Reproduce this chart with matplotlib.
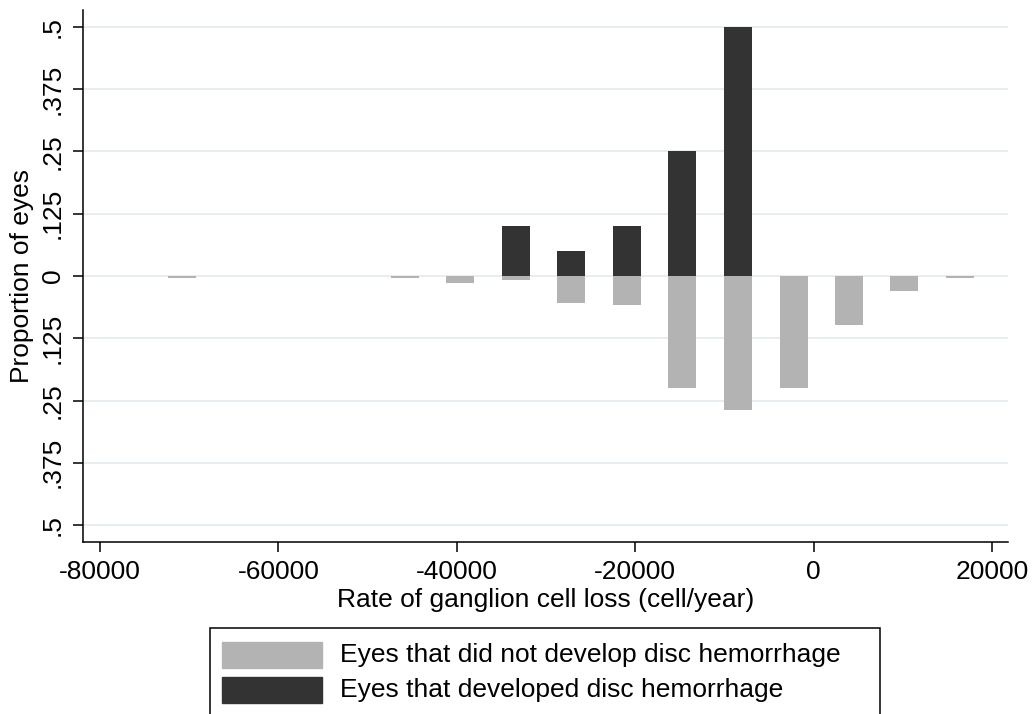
import matplotlib
matplotlib.use("Agg")
import matplotlib.pyplot as plt
from matplotlib.patches import Rectangle

plt.rcParams['font.family'] = ['Liberation Sans', 'DejaVu Sans']

# bin centres (cell/year) and proportions
no_dh_x = [-70800, -45800, -39600, -33400, -27200, -20900, -14700, -8500, -2240, 3970, 10170, 16400]
no_dh_prop = [0.005, 0.005, 0.014, 0.009, 0.054, 0.058, 0.225, 0.269, 0.225, 0.098, 0.030, 0.005]
dh_x = [-33400, -27200, -20900, -14700, -8500]
dh_prop = [0.1, 0.05, 0.1, 0.25, 0.5]

x_ticks = [-80000, -60000, -40000, -20000, 0, 20000]
y_ticks = [-0.5, -0.375, -0.25, -0.125, 0, 0.125, 0.25, 0.375, 0.5]
y_ticklabels = ['.5', '.375', '.25', '.125', '0', '.125', '.25', '.375', '.5']

labels = ['Eyes that did not develop disc hemorrhage', 'Eyes that developed disc hemorrhage']
light = '#b3b3b3'
dark = '#333333'

W, H = 1032, 714
fig = plt.figure(figsize=(W / 100, H / 100), dpi=100)
ax = fig.add_axes([83 / W, 172 / H, (1008 - 83) / W, (542 - 10) / H])

bw = 3150
ax.bar(dh_x, dh_prop, width=bw, color=dark, zorder=3)
ax.bar(no_dh_x, [-v for v in no_dh_prop], width=bw, color=light, zorder=3)

ax.set_xlim(-81900, 21800)
ax.set_ylim(-0.534, 0.534)
ax.set_xticks(x_ticks)
ax.set_xticklabels([str(t) for t in x_ticks])
ax.set_yticks(y_ticks)
ax.set_yticklabels(y_ticklabels, rotation=90, va='center')
ax.tick_params(axis='both', labelsize=19, length=7, width=1.1, direction='out', pad=6)
ax.yaxis.grid(True, color='#e4edf0', linewidth=1.3, zorder=0)
ax.set_axisbelow(True)

for s in ['top', 'right']:
    ax.spines[s].set_visible(False)
for s in ['left', 'bottom']:
    ax.spines[s].set_linewidth(1.1)

ax.set_xlabel('Rate of ganglion cell loss (cell/year)', fontsize=19, labelpad=3)
ax.set_ylabel('Proportion of eyes', fontsize=19, labelpad=5)

# legend box, drawn in figure pixels
def fx(px):
    return px / W

def fy(py):
    return 1 - py / H

fig.patches.append(Rectangle((fx(210), fy(716)), fx(880) - fx(210), fy(628) - fy(716),
                             transform=fig.transFigure, fill=False, edgecolor='black', linewidth=1.1))
for i, (lab, col) in enumerate(zip(labels, [light, dark])):
    top = 642 + i * 35
    fig.patches.append(Rectangle((fx(222), fy(top + 26)), fx(322) - fx(222), fy(top) - fy(top + 26),
                                 transform=fig.transFigure, color=col))
    fig.text(fx(340), fy(top + 13), lab, fontsize=19, va='center', ha='left')

fig.savefig('out.png', dpi=100)
